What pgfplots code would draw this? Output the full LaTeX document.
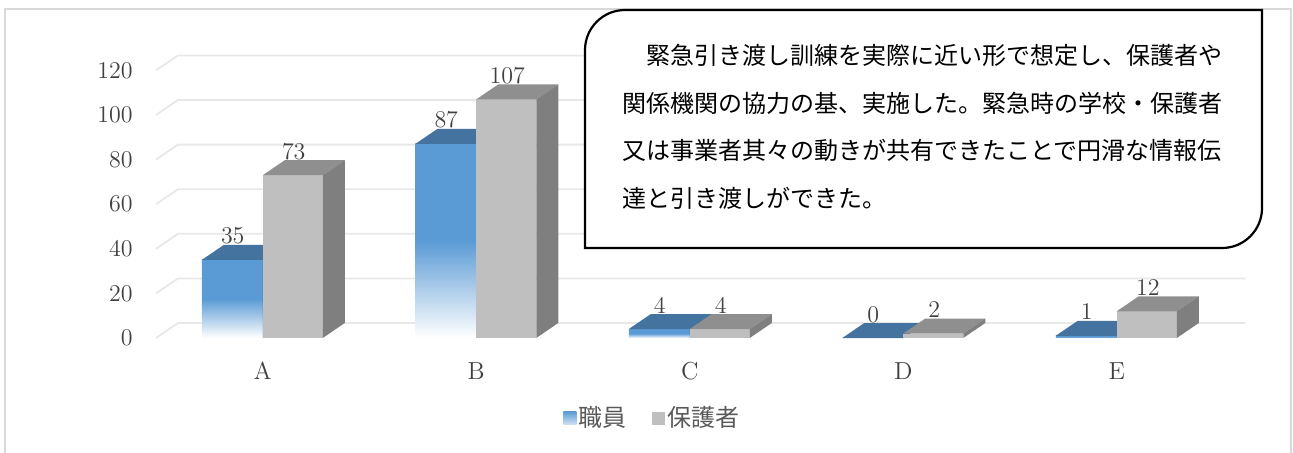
\documentclass[border=0pt]{standalone}
\usepackage{pgfplots}
\usepackage{pgfplotstable}
\pgfplotsset{compat=1.18}
\usepackage{fontspec}
\newfontfamily\cjk{Noto Sans CJK JP}
\definecolor{cblue}{HTML}{5B9BD5}
\definecolor{cbluetop}{HTML}{44739F}
\definecolor{cblueside}{HTML}{3A6590}
\definecolor{cgray}{HTML}{BFBFBF}
\definecolor{cgraytop}{HTML}{8F8F8F}
\definecolor{cgrayside}{HTML}{7F7F7F}
\definecolor{cgrid}{HTML}{E8E8E8}
\definecolor{cframe}{HTML}{D9D9D9}
\definecolor{ctext}{HTML}{404040}
\definecolor{clegend}{HTML}{595959}
\pgfdeclareplotmark{nomark}{}
\pgfplotstableread{
x staff guardian
0 35 73
1 87 107
2 4 4
3 0 2
4 1 12
}\datatable
\begin{document}
\begin{tikzpicture}
\useasboundingbox (0,0) rectangle (646.5pt,226pt);
\draw[cframe, line width=1pt] (2.5pt,-5pt) -- (2.5pt,221.5pt) -- (645.5pt,221.5pt) -- (645.5pt,-5pt);
\begin{axis}[
  at={(78pt,57pt)}, anchor=south west,
  x=106.75pt, y=1.115pt,
  xmin=-0.5, xmax=4.5, ymin=0, ymax=120,
  clip=false,
  axis line style={draw=none},
  major tick length=0pt,
  ytick={0,20,...,120},
  xtick={0,...,4},
  xticklabels={A,B,C,D,E},
  ticklabel style={font=\fontsize{12.3}{14}\selectfont, text=ctext},
  yticklabel style={anchor=east, inner sep=0pt, xshift=-11.5pt},
  xticklabel style={anchor=north, inner sep=0pt, yshift=-12pt},
  legend style={at={(0.4649,-0.299)}, anchor=center, draw=none, fill=none,
    legend columns=2, font=\cjk\fontsize{12}{14}\selectfont, text=clegend,
    /tikz/every even column/.append style={column sep=12pt},
    inner sep=0pt, nodes={inner sep=1pt}},
]
\pgfplotsinvokeforeach{0,20,...,120}{
  \draw[cgrid, line width=0.9pt] (axis cs:-0.5,#1) -- ++(11pt,7.5pt) -- ([xshift=11pt,yshift=7.5pt]axis cs:4.5,#1);
}
\addplot[scatter, only marks, mark=nomark,
  nodes near coords,
  every node near coord/.append style={font=\fontsize{12.3}{14}\selectfont, text=ctext, anchor=south, inner sep=0pt, yshift=7.8pt, xshift=-15pt},
  visualization depends on={rawy \as \val},
  scatter/@pre marker code/.append code={%
    \pgfmathsetmacro{\h}{\val*1.115}%
    \pgfmathsetmacro{\hb}{7.5-\h}%
    \ifdim\h pt>0.1pt
      \shade[draw=none, top color=cblue, bottom color=white, middle color=cblue] (-30.5pt,-\h pt) rectangle (0pt,0pt);
    \fi
    \fill[draw=none, cbluetop] (-30.5pt,0pt) -- (-19.5pt,7.5pt) -- (11pt,7.5pt) -- (0pt,0pt) -- cycle;
    \fill[draw=none, cblueside] (0pt,0pt) -- (11pt,7.5pt) -- (11pt,\hb pt) -- (0pt,-\h pt) -- cycle;
  },
  legend image code/.code={\shade[draw=none, top color=cblue, bottom color=cblue!30] (0pt,-3.25pt) rectangle (6.5pt,3.25pt);},
] table[x=x, y=staff] {\datatable};
\addlegendentry{職員}
\addplot[scatter, only marks, mark=nomark,
  nodes near coords,
  every node near coord/.append style={font=\fontsize{12.3}{14}\selectfont, text=ctext, anchor=south, inner sep=0pt, yshift=7.8pt, xshift=15.5pt},
  visualization depends on={rawy \as \val},
  scatter/@pre marker code/.append code={%
    \pgfmathsetmacro{\h}{\val*1.115}%
    \pgfmathsetmacro{\hb}{7.5-\h}%
    \fill[draw=none, cgray] (0pt,-\h pt) rectangle (30pt,0pt);
    \fill[draw=none, cgraytop] (0pt,0pt) -- (11pt,7.5pt) -- (41pt,7.5pt) -- (30pt,0pt) -- cycle;
    \fill[draw=none, cgrayside] (30pt,0pt) -- (41pt,7.5pt) -- (41pt,\hb pt) -- (30pt,-\h pt) -- cycle;
  },
  legend image code/.code={\fill[draw=none, cgray] (0pt,-3.25pt) rectangle (6.5pt,3.25pt);},
] table[x=x, y=guardian] {\datatable};
\addlegendentry{保護者}
\end{axis}
\draw[black, line width=1.1pt, fill=white] (292.5pt,102pt) -- (292.5pt,201pt) arc[start angle=180, end angle=90, radius=20pt] -- (631pt,221pt) -- (631pt,122pt) arc[start angle=0, end angle=-90, radius=20pt] -- cycle;
\begin{scope}[every node/.style={anchor=west, inner sep=0pt, font=\cjk\fontsize{12}{14}\selectfont}]
\node at (311pt,198.5pt) {　緊急引き渡し訓練を実際に近い形で想定し、保護者や};
\node at (311pt,174.5pt) {関係機関の協力の基、実施した。緊急時の学校・保護者};
\node at (311pt,151pt) {又は事業者其々の動きが共有できたことで円滑な情報伝};
\node at (311pt,127pt) {達と引き渡しができた。};
\end{scope}
\end{tikzpicture}
\end{document}
